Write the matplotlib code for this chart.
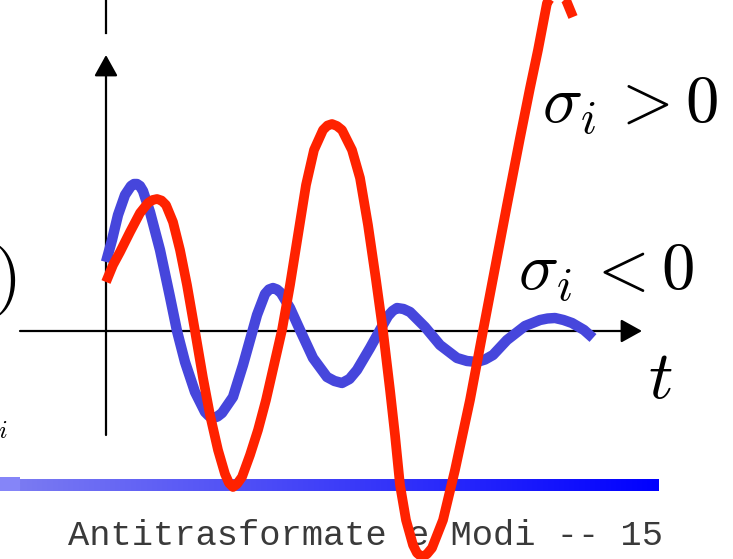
import numpy as np
import matplotlib
matplotlib.use("Agg")
import matplotlib.pyplot as plt

plt.rcParams["mathtext.fontset"] = "cm"

# growing oscillation (sigma_i > 0)
red_t = [0.0, 0.7, 1.4, 2.4, 3.4, 4.2, 4.65, 5.1, 5.55, 6.0, 6.7, 7.4, 8.1, 8.9,
         9.7, 10.4, 11.2, 11.9, 12.3, 12.7, 13.1, 13.6, 14.4, 15.2, 16.0, 16.8,
         17.6, 18.4, 19.2, 20.0, 20.8, 21.7, 22.15, 22.6, 23.1, 23.6, 24.6, 25.4,
         26.2, 27.0, 27.7, 28.4, 28.9, 29.4, 30.0, 30.7, 31.1, 31.6, 32.1, 32.6,
         33.7, 34.9, 36.4, 37.7, 38.9, 40.1, 41.4, 42.4, 43.2, 44.1, 45.0, 46.0,
         46.7]
red_v = [4.9, 6.6, 7.9, 9.9, 11.8, 12.8, 13.1, 13.2, 13.05, 12.6, 10.9, 8.1, 4.6, 0.0,
         -4.7, -8.4, -11.9, -14.3, -15.2, -15.6, -15.3, -14.6, -12.4, -9.9, -6.9, -3.4,
         0.1, 4.6, 9.6, 14.6, 18.1, 20.1, 20.55, 20.7, 20.5, 20.1, 18.1, 15.3,
         10.6, 5.1, 0.0, -5.9, -10.4, -15.4, -18.9, -21.4, -22.2, -22.6, -22.3, -21.7,
         -18.9, -13.9, -6.9, 0.0, 6.3, 12.6, 19.3, 24.3, 28.1, 32.8, 34.1, 33.1,
         31.4]

# decaying oscillation (sigma_i < 0)
blue_t = [0.0, 0.6, 1.2, 1.9, 2.5, 2.8, 3.1, 3.4, 3.7, 4.4, 5.4, 6.4, 7.1, 7.9,
          8.9, 9.9, 10.3, 10.7, 11.15, 11.6, 12.7, 13.7, 14.4, 15.1, 15.9, 16.3,
          16.7, 17.1, 17.5, 18.4, 19.4, 20.7, 22.1, 22.85, 23.6, 24.35, 25.1, 26.4,
          27.4, 28.2, 28.65, 29.1, 29.75, 30.4, 31.9, 33.4, 35.1, 36.1, 37.1, 37.9,
          38.7, 40.1, 41.9, 43.4, 44.15, 44.9, 45.75, 46.6, 47.8, 48.7]
blue_v = [6.9, 9.1, 11.6, 13.6, 14.5, 14.7, 14.7, 14.5, 14.0, 11.9, 8.1, 3.4, 0.0, -3.1,
          -6.1, -8.1, -8.5, -8.7, -8.55, -8.2, -6.6, -3.4, -0.9, 1.6, 3.7, 4.15,
          4.3, 4.15, 3.8, 2.3, 0.1, -2.7, -4.6, -5.0, -5.2, -4.8, -3.9, -1.7,
          0.1, 1.5, 2.0, 2.3, 2.2, 1.9, 0.4, -1.4, -2.7, -3.0, -3.1, -2.85,
          -2.4, -0.9, 0.5, 1.1, 1.25, 1.3, 1.1, 0.8, 0.1, -0.7]

LABEL_POS = "$\\sigma_i\\,> 0$"
LABEL_NEG = "$\\sigma_i\\,< 0$"
FOOTER = "Antitrasformate e Modi -- 15"

RED = "#ff2200"
BLUE = "#4646dc"

fig = plt.figure(figsize=(7.33, 5.59), dpi=100)
ax = fig.add_axes([0, 0, 1, 1])
ax.set_xlim(-10.6, 62.7)
ax.set_ylim(-22.8, 33.1)
ax.axis("off")

# axes with arrow heads
arrow = dict(arrowstyle="-|>,head_length=0.9,head_width=0.5", mutation_scale=14.4,
             lw=1.6, color="black", shrinkA=0, shrinkB=0)
ax.annotate("", xy=(53.6, 0), xytext=(-8.6, 0), arrowprops=arrow, zorder=2)
ax.annotate("", xy=(0, 27.6), xytext=(0, -10.4), arrowprops=arrow, zorder=2)
ax.plot([0, 0], [29.8, 34.0], color="black", lw=1.6, zorder=2)

# title bar gradient at the bottom of the slide
grad = np.linspace(0, 1, 256).reshape(1, -1)
cmap = matplotlib.colors.LinearSegmentedColormap.from_list("bar", ["#7a7af2", "#0000ff"])
ax.imshow(grad, cmap=cmap, aspect="auto", extent=(-8.6, 55.3, -16.0, -14.8), zorder=1)
ax.fill_between([-10.6, -8.6], -16.0, -14.6, color="#8585f8", lw=0, zorder=1)

ax.text(-3.8, -21.4, FOOTER, family="Liberation Mono", fontsize=25.5,
        color="#3a3a3a", va="baseline", ha="left", zorder=1)

ax.plot(blue_t, blue_v, color=BLUE, lw=7.5, solid_joinstyle="round",
        solid_capstyle="butt", zorder=3)
ax.plot(red_t, red_v, color=RED, lw=7.0, solid_joinstyle="round",
        solid_capstyle="butt", zorder=4)

ax.text(43.6, 20.8, LABEL_POS, fontsize=48, va="baseline", ha="left", zorder=5)
ax.text(41.2, 4.1, LABEL_NEG, fontsize=48, va="baseline", ha="left", zorder=5)
ax.text(54.2, -6.7, "$t$", fontsize=49, va="baseline", ha="left", zorder=5)

# pieces of the formula on the left edge
ax.text(-9.0, 5.0, "$)$", fontsize=50, va="center", ha="right", zorder=5)
ax.text(-9.8, -10.7, "$i$", fontsize=18, va="baseline", ha="right", zorder=5)

fig.savefig("out.png", dpi=100)
